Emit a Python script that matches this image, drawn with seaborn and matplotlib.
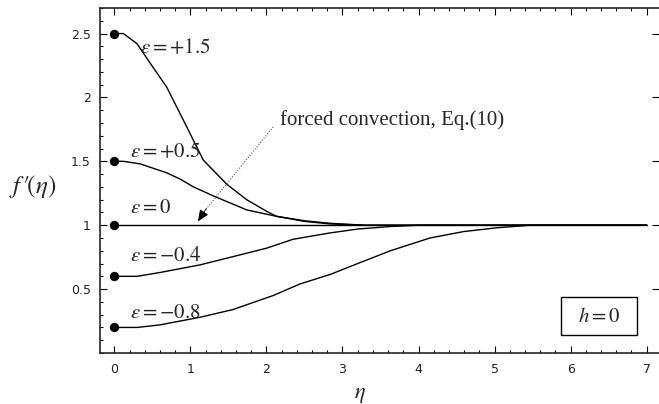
import numpy as np
import pandas as pd
import matplotlib
matplotlib.use("Agg")
import matplotlib.pyplot as plt
from matplotlib.patches import Rectangle
from matplotlib.ticker import MultipleLocator
import seaborn as sns

# Velocity profiles f'(eta) for several buoyancy parameters epsilon (h = 0)
eps_values = ["+1.5", "+0.5", "0", "−0.4", "−0.8"]

eta_p15 = [0, 0.12, 0.30, 0.47, 0.69, 0.91, 1.17, 1.48, 1.74, 2.0, 2.13, 2.5, 2.84, 3.3, 4.0, 7.0]
f_p15 = [2.5, 2.5, 2.42, 2.27, 2.08, 1.82, 1.51, 1.32, 1.20, 1.11, 1.07, 1.035, 1.015, 1.0, 1.0, 1.0]

eta_p05 = [0, 0.12, 0.34, 0.69, 0.87, 1.04, 1.30, 1.74, 2.13, 2.5, 2.84, 3.3, 7.0]
f_p05 = [1.5, 1.5, 1.48, 1.41, 1.36, 1.30, 1.23, 1.12, 1.07, 1.03, 1.01, 1.0, 1.0]

eta_0 = [0, 7.0]
f_0 = [1.0, 1.0]

eta_m04 = [0, 0.3, 0.6, 1.13, 1.6, 2.0, 2.35, 2.84, 3.2, 3.63, 4.0, 7.0]
f_m04 = [0.6, 0.6, 0.63, 0.69, 0.76, 0.82, 0.89, 0.94, 0.97, 0.99, 1.0, 1.0]

eta_m08 = [0, 0.3, 0.6, 1.13, 1.56, 2.09, 2.44, 2.84, 3.2, 3.63, 4.15, 4.59, 5.03, 5.47, 5.8, 7.0]
f_m08 = [0.2, 0.2, 0.22, 0.28, 0.34, 0.45, 0.54, 0.615, 0.70, 0.80, 0.90, 0.95, 0.98, 1.0, 1.0, 1.0]

curves = [(eta_p15, f_p15), (eta_p05, f_p05), (eta_0, f_0), (eta_m04, f_m04), (eta_m08, f_m08)]

# label anchors (left edge, vertical centre) in data coordinates
label_x = [0.34, 0.21, 0.21, 0.21, 0.21]
label_y = [2.39, 1.58, 1.14, 0.77, 0.32]

frames = []
for eps, (x, y) in zip(eps_values, curves):
    frames.append(pd.DataFrame({"eta": x, "f": y, "eps": eps}))
df = pd.concat(frames, ignore_index=True)
wall = df[df["eta"] == 0]

sns.set_style("ticks")
plt.rcParams["mathtext.fontset"] = "stix"
plt.rcParams["font.family"] = ["DejaVu Sans"]

fig = plt.figure(figsize=(6.59, 4.04), dpi=100)
ax = fig.add_axes([100 / 659, 51 / 404, 559 / 659, 345 / 404])

sns.lineplot(data=df, x="eta", y="f", hue="eps", palette=["black"] * 5,
             linewidth=1.0, legend=False, ax=ax, sort=False)
sns.scatterplot(data=wall, x="eta", y="f", color="black", s=45,
                edgecolor="black", linewidth=0, legend=False, ax=ax, zorder=5,
                clip_on=False)

ax.set_xlim(-0.188, 7.162)
ax.set_ylim(0.0, 2.70)

ax.xaxis.set_major_locator(MultipleLocator(1))
ax.xaxis.set_minor_locator(MultipleLocator(0.2))
ax.yaxis.set_major_locator(MultipleLocator(0.5))
ax.yaxis.set_minor_locator(MultipleLocator(0.1))
ax.set_yticks([0.5, 1, 1.5, 2, 2.5])
ax.set_yticklabels(["0.5", "1", "1.5", "2", "2.5"])

ax.tick_params(which="both", direction="in", top=True, right=True,
               colors="black", labelcolor="#222222", labelsize=9, width=0.8)
ax.tick_params(which="major", length=5)
ax.tick_params(which="minor", length=2.5)
ax.tick_params(axis="x", which="major", pad=7)
ax.tick_params(axis="y", which="minor", right=False)
ax.tick_params(axis="y", which="major", pad=6.5)

for side in ["left", "bottom", "top"]:
    ax.spines[side].set_linewidth(1.2)
ax.spines["right"].set_visible(False)

ax.set_xlabel(r"$\eta$", fontsize=16)
ax.xaxis.set_label_coords(0.465, -0.092)
ax.set_ylabel(r"$f\,\prime\!(\eta)$", fontsize=18, rotation=0, va="center", ha="center")
ax.yaxis.set_label_coords(-0.12, 0.484)

for eps, lx, ly in zip(eps_values, label_x, label_y):
    ax.text(lx, ly, r"$\varepsilon = %s$" % eps, fontsize=15, ha="left", va="center")

# forced-convection annotation with dotted leader and solid head
ax.text(2.18, 1.82, "forced convection, Eq.(10)", fontsize=15,
        family=["Liberation Serif"], ha="left", va="center")
ax.plot([2.09, 1.20], [1.77, 1.12], linestyle=(0, (1, 1.5)), color="#555555",
        linewidth=0.8)
ax.annotate("", xy=(1.10, 1.03), xytext=(1.21, 1.13),
            arrowprops=dict(arrowstyle="-|>,head_length=0.7,head_width=0.3",
                            color="black", linewidth=0.6, shrinkA=0, shrinkB=0))

# parameter box
ax.add_patch(Rectangle((5.88, 0.138), 0.99, 0.302, fill=False,
                       edgecolor="black", linewidth=1.0))
ax.text(6.375, 0.289, r"$h = 0$", fontsize=15, ha="center", va="center")

fig.savefig("out.png", dpi=100)
